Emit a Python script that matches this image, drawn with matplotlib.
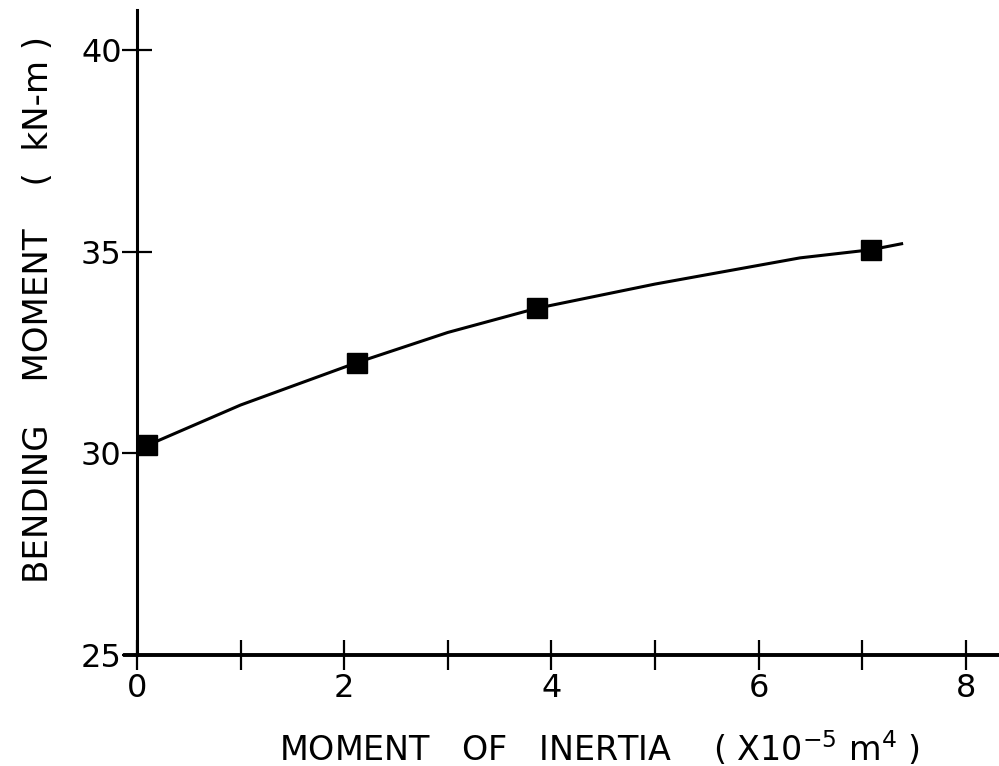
import matplotlib
matplotlib.use("Agg")
import matplotlib.pyplot as plt

plt.rcParams['font.family'] = ['DejaVu Sans']

# Measured points
inertia = [0.1, 2.12, 3.86, 7.08]
moment = [30.2, 32.25, 33.6, 35.05]

# Smooth curve
curve_x = [0.1, 1.0, 2.12, 3.0, 3.86, 5.0, 5.43, 6.4, 7.08, 7.38]
curve_y = [30.2, 31.2, 32.25, 33.0, 33.6, 34.2, 34.4, 34.85, 35.05, 35.2]

x_major = [0, 2, 4, 6, 8]
x_minor = [1, 3, 5, 7]
y_ticks = [25, 30, 35, 40]

fig = plt.figure(figsize=(9.99, 7.66), dpi=100)
ax = fig.add_axes([0.1247, 0.145, 0.8753, 0.842])

ax.plot(curve_x, curve_y, color='black', lw=2.2, zorder=2)
ax.plot(inertia, moment, ls='none', marker='s', ms=15, mfc='black',
        mec='black', zorder=3)

ax.set_xlim(-0.12, 8.32)
ax.set_ylim(25, 41.0)

for s in ['top', 'right']:
    ax.spines[s].set_visible(False)
ax.spines['left'].set_position(('data', 0))
ax.spines['left'].set_linewidth(2.2)
ax.spines['bottom'].set_linewidth(2.8)

ax.set_xticks(x_major)
ax.set_xticks(x_minor, minor=True)
ax.set_yticks(y_ticks)
ax.tick_params(axis='both', which='both', direction='inout', width=1.6,
               length=22, labelsize=23)
ax.tick_params(axis='x', which='major', pad=2)
ax.tick_params(axis='y', pad=0)

ax.set_xlabel(r"MOMENT   OF   INERTIA    ( X10$^{\mathregular{-5}}$ m$^{\mathregular{4}}$ )",
              fontsize=24)
ax.xaxis.set_label_coords(0.5425, -0.115)
ax.set_ylabel("BENDING    MOMENT    (  kN-m )", fontsize=24.5)
ax.yaxis.set_label_coords(-0.08, 0.535)

fig.savefig("out.png", dpi=100)
